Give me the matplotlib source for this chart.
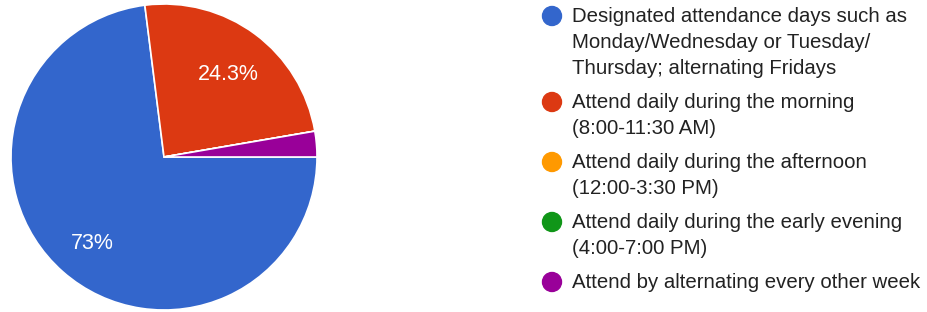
import math
import matplotlib
matplotlib.use("Agg")
import matplotlib.pyplot as plt
from matplotlib.patches import Circle

labels = [
    "Designated attendance days such as\nMonday/Wednesday or Tuesday/\nThursday; alternating Fridays",
    "Attend daily during the morning\n(8:00-11:30 AM)",
    "Attend daily during the afternoon\n(12:00-3:30 PM)",
    "Attend daily during the early evening\n(4:00-7:00 PM)",
    "Attend by alternating every other week",
]
values = [73.0, 24.3, 0.0, 0.0, 2.7]
pct_labels = ["73%", "24.3%", "", "", ""]
colors = ["#3366cc", "#dc3912", "#ff9900", "#109618", "#990099"]

W, H = 928, 312
fig = plt.figure(figsize=(W / 100, H / 100), dpi=100)

cx, cy, r = 164, 157, 153
ax = fig.add_axes([(cx - r) / W, (H - cy - r) / H, 2 * r / W, 2 * r / H])
ax.pie(values, colors=colors, startangle=0, counterclock=False,
       radius=1, wedgeprops=dict(edgecolor="white", linewidth=1.2))
ax.set_xlim(-1, 1)
ax.set_ylim(-1, 1)
ax.set_aspect("auto")
ax.axis("off")

cum = 0.0
total = sum(values)
for v, lab in zip(values, pct_labels):
    if v > 0 and lab:
        mid = -(cum + v / 2) / total * 2 * math.pi
        ax.text(0.71 * math.cos(mid), 0.71 * math.sin(mid) - 0.03, lab, color="white",
                ha="center", va="center", fontsize=15.5, family="Liberation Sans")
    cum += v

# legend
lax = fig.add_axes([0, 0, 1, 1], facecolor="none")
lax.set_xlim(0, W)
lax.set_ylim(H, 0)
lax.axis("off")
line_h = 26
y = 16
text_x = 572
mark_x = 552
for lab, col in zip(labels, colors):
    parts = lab.split("\n")
    for i, part in enumerate(parts):
        lax.text(text_x, y + i * line_h, part, ha="left", va="center",
                 fontsize=14.7, family="Liberation Sans", color="#222222")
    lax.add_patch(Circle((mark_x, y), 9.5, color=col))
    y += len(parts) * line_h + 8

fig.savefig("out.png", dpi=100)
